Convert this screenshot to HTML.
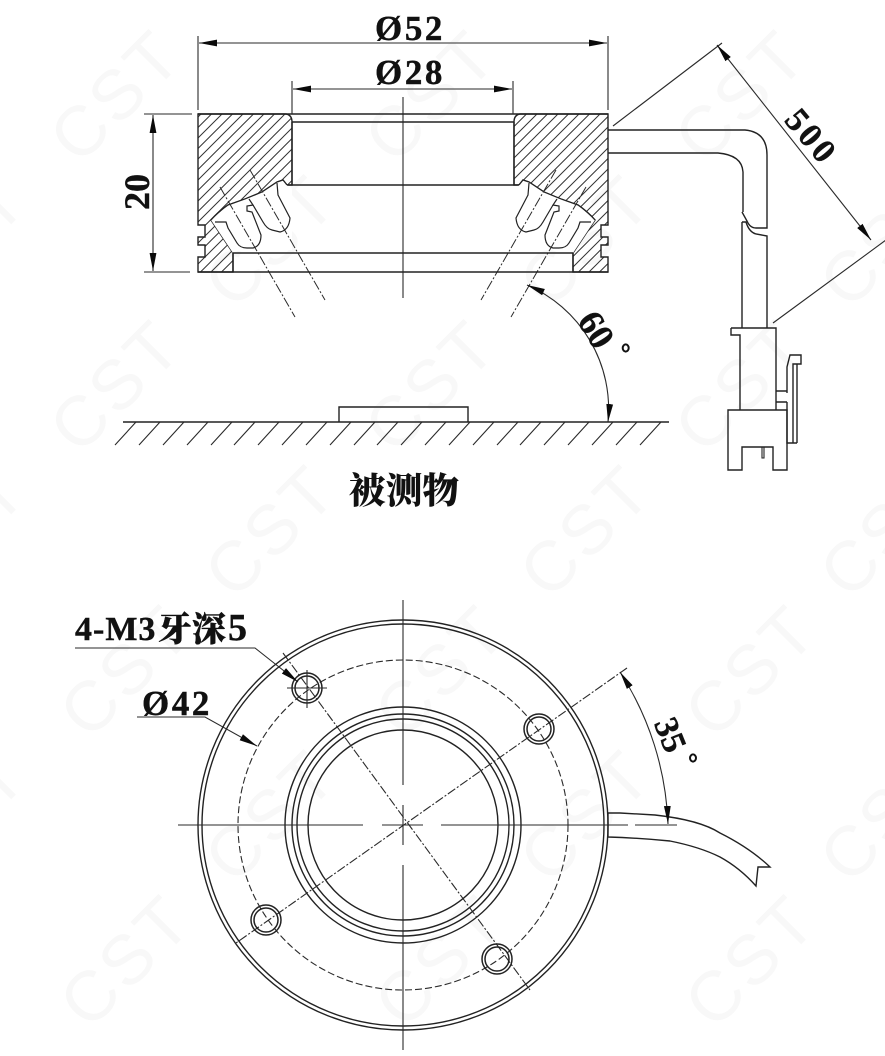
<!DOCTYPE html>
<html><head><meta charset="utf-8"><style>
html,body{margin:0;padding:0;background:#fff}
svg{display:block}
.l{fill:none;stroke:#222;stroke-width:1.4}
.t{fill:none;stroke:#2a2a2a;stroke-width:1.1}
.d{fill:none;stroke:#2a2a2a;stroke-width:1.1;stroke-dasharray:9 2 2 2}
.b{font-family:"Liberation Serif","Noto Serif CJK SC",serif;font-weight:bold;fill:#111;stroke:#111;stroke-width:.4}
.w{font-family:"Liberation Sans",sans-serif;font-size:70px;fill:#f8f8f8;letter-spacing:4px}
</style></head><body>
<svg width="885" height="1056" viewBox="0 0 885 1056" xmlns="http://www.w3.org/2000/svg">
<defs>
<pattern id="h" width="10.5" height="10.5" patternUnits="userSpaceOnUse"><path d="M-1,11.5L11.5,-1M-1,1L1,-1M9.5,11.5L11.5,9.5" stroke="#333" stroke-width="1" fill="none"/></pattern>
<marker id="a" markerUnits="userSpaceOnUse" markerWidth="20" markerHeight="10" refX="18" refY="5" orient="auto-start-reverse"><path d="M0,1.6L18,5L0,8.4Z" fill="#0a0a0a"/></marker>
<g id="lamps">
<path fill="#fff" stroke="none" d="M211,220L228,205L245,199L262,192L277,182L283,180L287,185L292,188L292,250L240,250L233,253Z"/>
<g fill="none" stroke="#222" stroke-width="1.2">
<path d="M215,222L226,222L228,228L237,243Q240,248 247,248L253,248Q261,246 261,235L252,212L247,211L247,206L253,205L249,199"/>
<path d="M253,205L263,222Q267,229 272,230L280,232Q289,230 290,218L278,195L277,183"/>
<path d="M211,220Q218,212 228,205L245,199L262,192L277,182L283,180L287,185"/>
</g>
<path d="M220,187L295,317M250,170L325,300" style="fill:none;stroke:#2a2a2a;stroke-width:1;stroke-dasharray:10 2 2 2"/>
</g>
</defs>
<rect width="885" height="1056" fill="#fff"/>
<!-- watermark -->
<g class="w">
<text transform="translate(115,95) rotate(-45)" text-anchor="middle" y="25">CST</text>
<text transform="translate(430,95) rotate(-45)" text-anchor="middle" y="25">CST</text>
<text transform="translate(740,95) rotate(-45)" text-anchor="middle" y="25">CST</text>
<text transform="translate(-40,240) rotate(-45)" text-anchor="middle" y="25">CST</text>
<text transform="translate(270,240) rotate(-45)" text-anchor="middle" y="25">CST</text>
<text transform="translate(585,240) rotate(-45)" text-anchor="middle" y="25">CST</text>
<text transform="translate(885,240) rotate(-45)" text-anchor="middle" y="25">CST</text>
<text transform="translate(115,385) rotate(-45)" text-anchor="middle" y="25">CST</text>
<text transform="translate(430,385) rotate(-45)" text-anchor="middle" y="25">CST</text>
<text transform="translate(740,385) rotate(-45)" text-anchor="middle" y="25">CST</text>
<text transform="translate(-40,530) rotate(-45)" text-anchor="middle" y="25">CST</text>
<text transform="translate(270,530) rotate(-45)" text-anchor="middle" y="25">CST</text>
<text transform="translate(585,530) rotate(-45)" text-anchor="middle" y="25">CST</text>
<text transform="translate(885,530) rotate(-45)" text-anchor="middle" y="25">CST</text>
<text transform="translate(125,670) rotate(-45)" text-anchor="middle" y="25">CST</text>
<text transform="translate(440,670) rotate(-45)" text-anchor="middle" y="25">CST</text>
<text transform="translate(750,670) rotate(-45)" text-anchor="middle" y="25">CST</text>
<text transform="translate(-40,815) rotate(-45)" text-anchor="middle" y="25">CST</text>
<text transform="translate(270,815) rotate(-45)" text-anchor="middle" y="25">CST</text>
<text transform="translate(585,815) rotate(-45)" text-anchor="middle" y="25">CST</text>
<text transform="translate(885,815) rotate(-45)" text-anchor="middle" y="25">CST</text>
<text transform="translate(125,960) rotate(-45)" text-anchor="middle" y="25">CST</text>
<text transform="translate(440,960) rotate(-45)" text-anchor="middle" y="25">CST</text>
<text transform="translate(750,960) rotate(-45)" text-anchor="middle" y="25">CST</text>
</g>

<!-- section view: hatch -->
<path class="l" style="fill:url(#h)" d="M198,114H286Q292,115 292,122V185H287L283,180L277,182L262,192L245,199L228,205Q218,212 211,220L233,253V272H198V257H205V245H198V237H205V225H198Z"/>
<path class="l" style="fill:url(#h)" d="M608,114H520Q514,115 514,122V185H519L523,180L529,182L544,192L561,199L578,205Q588,212 595,220L573,253V272H608V257H601V245H608V237H601V225H608Z"/>
<path class="t" d="M403,97V298"/>
<use href="#lamps"/>
<use href="#lamps" transform="translate(806,0) scale(-1,1)"/>
<path class="l" d="M198,114H608M292,122H514M287,185H519M233,253H573M198,272H608M292,185V122M514,185V122M233,253V272M573,253V272"/>

<!-- dims top -->
<path class="t" d="M198,36V110M608,36V110M292,81V114M513,81V114"/>
<path class="t" d="M199,43H607" marker-start="url(#a)" marker-end="url(#a)"/>
<path class="t" d="M293,89H512" marker-start="url(#a)" marker-end="url(#a)"/>
<path class="t" d="M144,114H192M144,272H190"/>
<path class="t" d="M153,115V271" marker-start="url(#a)" marker-end="url(#a)"/>
<text class="b" x="375" y="40" font-size="35" letter-spacing="2.6">Ø52</text>
<text class="b" x="375" y="84" font-size="35" letter-spacing="2.6">Ø28</text>
<text class="b" font-size="36" transform="translate(149,192) rotate(-90)" text-anchor="middle">20</text>

<!-- cable side -->
<path class="l" d="M608,130H745Q767,132 767,155V228H756Q750,228 747,221L742,212"/>
<path class="l" d="M608,153H718Q742,155 743,172V212"/>
<path class="l" d="M742,222L746,222Q749,232 756,234L767,236V328"/>
<path class="l" d="M742,222V328"/>
<path class="l" d="M731,328H776V410M731,328V335H740V410"/>
<path class="l" d="M728,410H787V470H773V447H742V470H728Z"/>
<path class="l" style="stroke-width:1.1" d="M762,447V458H764V447"/>
<path class="l" d="M776,391H787M776,402H787M787,393V367L790,355H801V364H793V443M797,364V443M787,402V443H797"/>

<!-- 500 dim -->
<path class="t" d="M613,126L722,43M773,323L886,240"/>
<path class="t" d="M717,45L871,240" marker-start="url(#a)" marker-end="url(#a)"/>
<text class="b" font-size="34" letter-spacing="3.5" transform="translate(803,144) rotate(50)" text-anchor="middle">500</text>

<!-- 60 deg -->
<path class="t" d="M527,285A135,135 0 0 1 608,422" marker-start="url(#a)" marker-end="url(#a)"/>
<text class="b" font-size="36" transform="translate(586,336) rotate(58)" text-anchor="middle">60</text>
<ellipse cx="625.7" cy="348" rx="3" ry="3.6" fill="none" stroke="#111" stroke-width="2"/>

<!-- ground -->
<path class="l" d="M123,422H669M339,422V407H468V422"/>
<path class="t" d="M136,422L115,445M160,422L139,445M184,422L163,445M208,422L187,445M232,422L211,445M255,422L234,445M279,422L258,445M303,422L282,445M327,422L306,445M351,422L330,445M375,422L354,445M398,422L377,445M422,422L401,445M446,422L425,445M470,422L449,445M494,422L473,445M518,422L497,445M541,422L520,445M565,422L544,445M589,422L568,445M613,422L592,445M637,422L616,445M661,422L640,445"/>
<text font-family="'Noto Serif CJK SC','Liberation Serif',serif" font-weight="900" font-size="36" x="349" y="503" fill="#111" textLength="110" lengthAdjust="spacingAndGlyphs">被测物</text>

<!-- bottom view -->
<circle class="l" cx="403" cy="825" r="205"/>
<circle class="l" cx="403" cy="825" r="201"/>
<circle cx="403" cy="825" r="165" fill="none" stroke="#2a2a2a" stroke-width="1.1" stroke-dasharray="7 3"/>
<circle class="l" cx="403" cy="825" r="118"/>
<circle class="l" cx="403" cy="825" r="111"/>
<circle class="l" cx="403" cy="825" r="106"/>
<circle class="l" cx="403" cy="825" r="95"/>
<path class="t" d="M403,600V785M403,805V845M403,865V1050M178,825H363M382,825H423M441,825H628M635,825H677"/>
<path class="d" d="M283,653L530,990M627,668L236,943"/>
<g fill="none" stroke="#222" stroke-width="1.5">
<circle cx="307" cy="688" r="15"/><circle cx="307" cy="688" r="12"/>
<circle cx="539" cy="729" r="15"/><circle cx="539" cy="729" r="12"/>
<circle cx="266" cy="920" r="15"/><circle cx="266" cy="920" r="12"/>
<circle cx="497" cy="959" r="15"/><circle cx="497" cy="959" r="12"/>
</g>
<path class="t" d="M287,688H327M307,670V708"/>

<!-- leaders -->
<path class="t" d="M75,648H255L298,682" marker-end="url(#a)"/>
<path class="t" d="M137,717H205L257,746" marker-end="url(#a)"/>
<text class="b" x="75" y="640" font-size="34" letter-spacing="1">4-M3<tspan x="158" y="641" font-size="34" font-family="'Noto Serif CJK SC',serif" font-weight="900" letter-spacing="0">牙深</tspan><tspan x="228" y="640" font-size="38">5</tspan></text>
<text class="b" x="142" y="715" font-size="35" letter-spacing="2.6">Ø42</text>

<!-- cable bottom view + 35 -->
<path class="l" d="M608,813H620L655,815Q700,820 720,833Q750,848 770,867H758L756,886Q740,868 720,857Q700,847 670,841Q640,838 608,837V813"/>
<path class="t" d="M620,672A300,300 0 0 1 668,824" marker-start="url(#a)" marker-end="url(#a)"/>
<text class="b" font-size="34" transform="translate(660,739) rotate(68)" text-anchor="middle">35</text>
<ellipse cx="693" cy="758" rx="3" ry="3.6" fill="none" stroke="#111" stroke-width="2"/>
</svg>
</body></html>
